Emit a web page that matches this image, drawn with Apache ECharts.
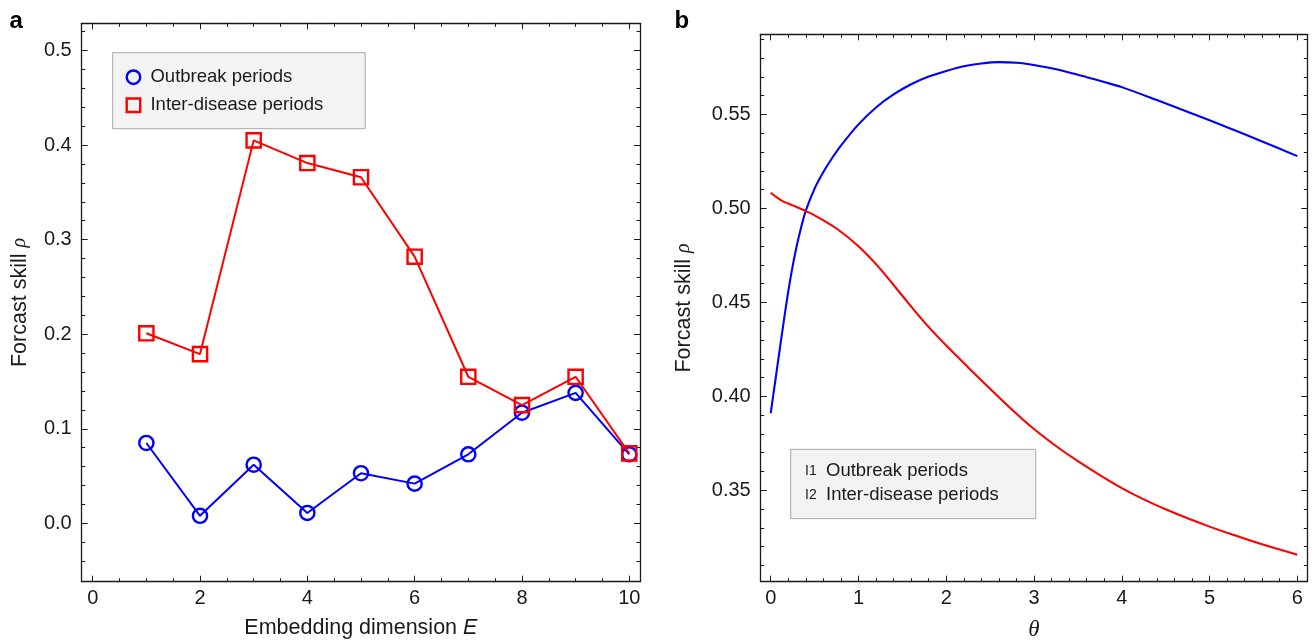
<!DOCTYPE html>
<html>
<head>
<meta charset="utf-8">
<script src="https://cdn.jsdelivr.net/npm/echarts@6/dist/echarts.min.js"></script>
<style>
html,body{margin:0;padding:0;background:#ffffff;}
#c{width:1314px;height:641px;}
</style>
</head>
<body>
<div id="c"></div>
<script>
// ---------- data ----------
const E = [1, 2, 3, 4, 5, 6, 7, 8, 9, 10];
const outbreakE = [0.085, 0.008, 0.062, 0.011, 0.053, 0.042, 0.073, 0.117, 0.138, 0.073];
const interE = [0.201, 0.179, 0.405, 0.381, 0.366, 0.282, 0.155, 0.125, 0.155, 0.074];

const thetaOutbreak = [0, 0.05, 0.1, 0.15, 0.2, 0.25, 0.3, 0.35, 0.4, 0.5, 0.6, 0.7, 0.8, 1.0, 1.2, 1.4, 1.6, 1.8, 2.0, 2.2, 2.4, 2.6, 2.8, 3.0, 3.2, 3.4, 3.6, 3.8, 4.0, 4.4, 4.8, 5.2, 5.6, 6.0];
const outbreakTheta = [0.391, 0.4075, 0.424, 0.4403, 0.4558, 0.4693, 0.4808, 0.4905, 0.4988, 0.5105, 0.5193, 0.5268, 0.5334, 0.5447, 0.5537, 0.5606, 0.566, 0.5701, 0.5731, 0.5756, 0.5771, 0.5778, 0.5775, 0.5763, 0.5745, 0.5723, 0.5698, 0.5672, 0.5645, 0.5576, 0.5505, 0.5432, 0.5356, 0.5278];
const thetaInter = [0, 0.125, 0.25, 0.375, 0.5, 0.75, 1.0, 1.25, 1.5, 1.75, 2.0, 2.25, 2.5, 2.75, 3.0, 3.25, 3.5, 3.75, 4.0, 4.25, 4.5, 4.75, 5.0, 5.25, 5.5, 5.75, 6.0];
const interTheta = [0.5083, 0.5041, 0.5016, 0.4991, 0.4963, 0.4893, 0.4798, 0.4677, 0.4535, 0.4395, 0.427, 0.4154, 0.404, 0.3929, 0.3826, 0.3736, 0.3655, 0.3581, 0.3512, 0.3452, 0.3399, 0.3351, 0.3307, 0.3266, 0.3228, 0.3192, 0.3157];

const seriesNames = ['Outbreak periods', 'Inter-disease periods'];
const legendTagsB = ['I1', 'I2'];

const aXTicks = [0, 2, 4, 6, 8, 10];
const aXMinorTicks = [0.5, 1, 1.5, 2.5, 3, 3.5, 4.5, 5, 5.5, 6.5, 7, 7.5, 8.5, 9, 9.5];
const aYTicks = [0, 0.1, 0.2, 0.3, 0.4, 0.5];
const aYMinorTicks = [-0.04, -0.02, 0.02, 0.04, 0.06, 0.08, 0.12, 0.14, 0.16, 0.18, 0.22, 0.24, 0.26, 0.28, 0.32, 0.34, 0.36, 0.38, 0.42, 0.44, 0.46, 0.48, 0.52];
const bXTicks = [0, 1, 2, 3, 4, 5, 6];
const bXMinorTicks = [0.2, 0.4, 0.6, 0.8, 1.2, 1.4, 1.6, 1.8, 2.2, 2.4, 2.6, 2.8, 3.2, 3.4, 3.6, 3.8, 4.2, 4.4, 4.6, 4.8, 5.2, 5.4, 5.6, 5.8];
const bYTicks = [0.35, 0.40, 0.45, 0.50, 0.55];
const bYMinorTicks = [0.31, 0.32, 0.33, 0.34, 0.36, 0.37, 0.38, 0.39, 0.41, 0.42, 0.43, 0.44, 0.46, 0.47, 0.48, 0.49, 0.51, 0.52, 0.53, 0.54, 0.56, 0.57, 0.58, 0.59];

// ---------- style ----------
const FONT = "'Liberation Sans', Arial, Helvetica, sans-serif";
const SERIF = "'Liberation Serif', 'DejaVu Serif', serif";
const INK = '#1a1a1a';
const BLUE = '#0000ff';
const RED = '#ff0000';
const CLEAR = 'rgba(255,255,255,0)';
const SQUARE = 'path://M0,0H10V10H0Z';

function axisGroup(dim, gridIndex, min, max, major, minor, fmt, name, nameGap, nameStyle) {
  const p1 = dim === 'x' ? 'bottom' : 'left';
  const p2 = dim === 'x' ? 'top' : 'right';
  const base = { type: 'value', gridIndex: gridIndex, min: min, max: max, splitLine: { show: false }, silent: true };
  const frame = { show: true, onZero: false, lineStyle: { color: INK, width: 1.3 } };
  const noFrame = { show: false, onZero: false };
  const majTick = { show: true, inside: true, length: 6, customValues: major, lineStyle: { color: INK, width: 1 } };
  const minTick = { show: true, inside: true, length: 3.5, customValues: minor, lineStyle: { color: INK, width: 1 } };
  return [
    Object.assign({}, base, {
      position: p1, axisLine: frame, axisTick: majTick,
      axisLabel: { show: true, customValues: major, formatter: fmt, fontSize: 20, color: INK, fontFamily: FONT, margin: dim === 'x' ? 7 : 10 },
      name: name, nameLocation: 'middle', nameGap: nameGap, nameTextStyle: nameStyle
    }),
    Object.assign({}, base, { position: p1, axisLine: noFrame, axisTick: minTick, axisLabel: { show: false } }),
    Object.assign({}, base, { position: p2, axisLine: frame, axisTick: majTick, axisLabel: { show: false } }),
    Object.assign({}, base, { position: p2, axisLine: noFrame, axisTick: minTick, axisLabel: { show: false } })
  ];
}

const titleStyle = { fontSize: 21.5, color: INK, fontFamily: FONT };
const richItalic = { i: { fontSize: 21.5, fontStyle: 'italic', color: INK, fontFamily: FONT } };
const richRho = { r: { fontSize: 20, fontStyle: 'italic', color: INK, fontFamily: SERIF } };

const xAxes = []
  .concat(axisGroup('x', 0, -0.205, 10.2, aXTicks, aXMinorTicks, v => String(v), 'Embedding dimension {i|E}', 35,
    Object.assign({}, titleStyle, { rich: richItalic })))
  .concat(axisGroup('x', 1, -0.114, 6.114, bXTicks, bXMinorTicks, v => String(v), 'θ', 37,
    { fontSize: 23, fontStyle: 'italic', color: INK, fontFamily: SERIF }));

const yAxes = []
  .concat(axisGroup('y', 0, -0.0617, 0.5288, aYTicks, aYMinorTicks, v => v.toFixed(1), 'Forcast skill {r|ρ}', 51,
    Object.assign({}, titleStyle, { rich: richRho })))
  .concat(axisGroup('y', 1, 0.3014, 0.5926, bYTicks, bYMinorTicks, v => v.toFixed(2), 'Forcast skill {r|ρ}', 66,
    Object.assign({}, titleStyle, { rich: richRho })));

const option = {
  animation: false,
  backgroundColor: '#ffffff',
  title: [
    { text: 'a', left: 9.5, top: 9, padding: 0, textStyle: { fontSize: 24, fontWeight: 'bold', color: '#000', fontFamily: FONT } },
    { text: 'b', left: 674.5, top: 9, padding: 0, textStyle: { fontSize: 24, fontWeight: 'bold', color: '#000', fontFamily: FONT } }
  ],
  grid: [
    { left: 81.7, top: 23.3, width: 558.3, height: 558.4, containLabel: false, outerBoundsMode: 'none' },
    { left: 760.7, top: 34.3, width: 546.6, height: 547.4, containLabel: false, outerBoundsMode: 'none' }
  ],
  xAxis: xAxes,
  yAxis: yAxes,
  legend: [
    {
      left: 112.7, top: 52.7, orient: 'vertical', selectedMode: false, symbolKeepAspect: true,
      padding: [15, 42, 14, 12.8], itemWidth: 24, itemHeight: 13.5, itemGap: 9,
      backgroundColor: '#f3f3f3', borderColor: '#a8a8a8', borderWidth: 1,
      textStyle: { fontSize: 18.5, color: INK, fontFamily: FONT },
      data: [
        { name: seriesNames[0], icon: 'circle', itemStyle: { color: CLEAR, borderColor: BLUE, borderWidth: 2.4 } },
        { name: seriesNames[1], icon: SQUARE, itemStyle: { color: CLEAR, borderColor: RED, borderWidth: 2.4 } }
      ]
    },
    {
      left: 790.7, top: 449.3, orient: 'vertical', selectedMode: false,
      padding: [12, 37, 14, 9.3], itemWidth: 0, itemHeight: 18, itemGap: 5.3,
      backgroundColor: '#f3f3f3', borderColor: '#a8a8a8', borderWidth: 1,
      icon: 'rect', itemStyle: { color: CLEAR, borderWidth: 0, borderColor: CLEAR },
      textStyle: { fontSize: 18.5, color: INK, fontFamily: FONT,
        rich: { p: { fontSize: 14, width: 21, color: INK, fontFamily: FONT } } },
      formatter: function (name) { return '{p|' + legendTagsB[seriesNames.indexOf(name)] + '}' + name; },
      data: seriesNames.slice()
    }
  ],
  series: [
    {
      type: 'line', name: seriesNames[0], xAxisIndex: 0, yAxisIndex: 0,
      data: E.map((e, i) => [e, outbreakE[i]]),
      symbol: 'circle', symbolSize: 14.2, showAllSymbol: true,
      itemStyle: { color: CLEAR, borderColor: BLUE, borderWidth: 2.4 },
      lineStyle: { color: BLUE, width: 2 }, emphasis: { disabled: true }, z: 2
    },
    {
      type: 'line', name: seriesNames[1], xAxisIndex: 0, yAxisIndex: 0,
      data: E.map((e, i) => [e, interE[i]]),
      symbol: 'rect', symbolSize: 14.2, showAllSymbol: true,
      itemStyle: { color: CLEAR, borderColor: RED, borderWidth: 2.4 },
      lineStyle: { color: RED, width: 2 }, emphasis: { disabled: true }, z: 3
    },
    {
      type: 'line', name: seriesNames[0], xAxisIndex: 4, yAxisIndex: 4,
      data: thetaOutbreak.map((t, i) => [t, outbreakTheta[i]]),
      showSymbol: false, smooth: 0.3,
      itemStyle: { color: BLUE }, lineStyle: { color: BLUE, width: 2.1 }, emphasis: { disabled: true }, z: 2
    },
    {
      type: 'line', name: seriesNames[1], xAxisIndex: 4, yAxisIndex: 4,
      data: thetaInter.map((t, i) => [t, interTheta[i]]),
      showSymbol: false, smooth: 0.3,
      itemStyle: { color: RED }, lineStyle: { color: RED, width: 2.1 }, emphasis: { disabled: true }, z: 3
    }
  ]
};

const chart = echarts.init(document.getElementById('c'), null, { renderer: 'canvas' });
chart.setOption(option);
</script>
</body>
</html>
